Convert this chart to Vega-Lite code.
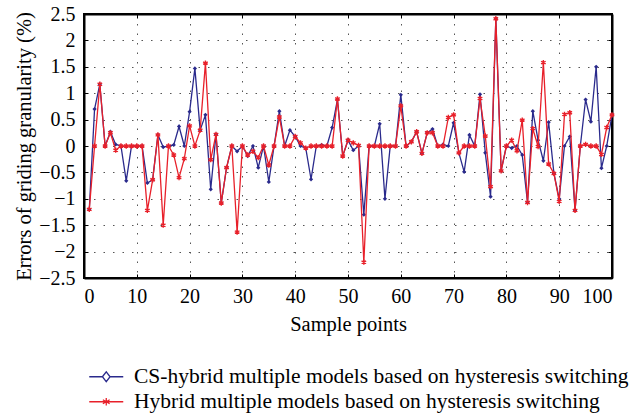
{
  "$schema": "https://vega.github.io/schema/vega-lite/v6.json",
  "width": 528,
  "height": 264,
  "autosize": "none",
  "padding": {"left": 84, "top": 14, "right": 30, "bottom": 139},
  "background": "white",
  "config": {
    "font": "Liberation Serif",
    "view": {"stroke": "black", "strokeWidth": 2},
    "axis": {
      "labelFont": "Liberation Serif",
      "titleFont": "Liberation Serif",
      "labelFontSize": 20,
      "titleFontSize": 20.5,
      "titleFontWeight": "normal",
      "labelColor": "black",
      "titleColor": "black",
      "domainColor": "black",
      "domainWidth": 2,
      "tickColor": "black",
      "tickWidth": 1,
      "tickSize": -4,
      "gridColor": "#555555",
      "gridDash": [1.5, 8],
      "gridWidth": 1
    },
    "legend": {"labelFont": "Liberation Serif"}
  },
  "data": {
    "values": [
      {"s": 1, "a": -1.2, "b": -1.2},
      {"s": 2, "a": 0.7, "b": 0},
      {"s": 3, "a": 1.17, "b": 1.17},
      {"s": 4, "a": 0, "b": 0},
      {"s": 5, "a": 0.27, "b": 0.25},
      {"s": 6, "a": 0.03, "b": -0.08},
      {"s": 7, "a": 0, "b": 0},
      {"s": 8, "a": -0.66, "b": 0},
      {"s": 9, "a": 0, "b": 0},
      {"s": 10, "a": 0, "b": 0},
      {"s": 11, "a": 0, "b": 0},
      {"s": 12, "a": -0.7, "b": -1.22},
      {"s": 13, "a": -0.64, "b": -0.64},
      {"s": 14, "a": 0.21, "b": 0.21},
      {"s": 15, "a": -0.02, "b": -1.5},
      {"s": 16, "a": 0, "b": 0},
      {"s": 17, "a": 0.02, "b": -0.17},
      {"s": 18, "a": 0.37, "b": -0.6},
      {"s": 19, "a": 0, "b": -0.24},
      {"s": 20, "a": 0.65, "b": 0.38},
      {"s": 21, "a": 1.47, "b": 0},
      {"s": 22, "a": 0.3, "b": 0.3},
      {"s": 23, "a": 0.59, "b": 1.57},
      {"s": 24, "a": -0.82, "b": -0.26},
      {"s": 25, "a": 0.22, "b": 0.22},
      {"s": 26, "a": -1.08, "b": -1.08},
      {"s": 27, "a": -0.41, "b": -0.41},
      {"s": 28, "a": 0, "b": 0},
      {"s": 29, "a": -0.1, "b": -1.63},
      {"s": 30, "a": 0, "b": 0},
      {"s": 31, "a": -0.19, "b": -0.17},
      {"s": 32, "a": 0, "b": -0.1},
      {"s": 33, "a": -0.41, "b": -0.22},
      {"s": 34, "a": 0, "b": 0},
      {"s": 35, "a": -0.68, "b": -0.36},
      {"s": 36, "a": 0, "b": 0},
      {"s": 37, "a": 0.66, "b": 0.55},
      {"s": 38, "a": 0, "b": 0},
      {"s": 39, "a": 0.3, "b": 0},
      {"s": 40, "a": 0.18, "b": 0.18},
      {"s": 41, "a": 0, "b": 0.06},
      {"s": 42, "a": -0.04, "b": -0.04},
      {"s": 43, "a": -0.63, "b": 0},
      {"s": 44, "a": 0, "b": 0},
      {"s": 45, "a": 0.02, "b": 0},
      {"s": 46, "a": 0, "b": 0},
      {"s": 47, "a": 0.35, "b": 0},
      {"s": 48, "a": 0.88, "b": 0.89},
      {"s": 49, "a": -0.19, "b": -0.19},
      {"s": 50, "a": 0.11, "b": 0.11},
      {"s": 51, "a": -0.08, "b": 0.06},
      {"s": 52, "a": 0, "b": 0.01},
      {"s": 53, "a": -1.3, "b": -2.2},
      {"s": 54, "a": 0, "b": 0},
      {"s": 55, "a": 0, "b": 0},
      {"s": 56, "a": 0.42, "b": 0},
      {"s": 57, "a": -1.0, "b": 0},
      {"s": 58, "a": 0, "b": 0},
      {"s": 59, "a": 0, "b": 0},
      {"s": 60, "a": 0.97, "b": 0.76},
      {"s": 61, "a": 0, "b": 0},
      {"s": 62, "a": 0.08, "b": 0.08},
      {"s": 63, "a": 0.27, "b": 0.27},
      {"s": 64, "a": -0.14, "b": -0.14},
      {"s": 65, "a": 0.25, "b": 0.25},
      {"s": 66, "a": 0.32, "b": 0.25},
      {"s": 67, "a": 0, "b": 0},
      {"s": 68, "a": 0.03, "b": 0},
      {"s": 69, "a": 0, "b": 0.54},
      {"s": 70, "a": 0.44, "b": 0.59},
      {"s": 71, "a": -0.13, "b": -0.13},
      {"s": 72, "a": -0.49, "b": 0},
      {"s": 73, "a": 0.21, "b": 0},
      {"s": 74, "a": 0, "b": 0},
      {"s": 75, "a": 0.98, "b": 0.9},
      {"s": 76, "a": -0.13, "b": 0.19},
      {"s": 77, "a": -0.96, "b": -0.77},
      {"s": 78, "a": 2.41, "b": 2.41},
      {"s": 79, "a": -0.47, "b": -0.47},
      {"s": 80, "a": 0, "b": 0},
      {"s": 81, "a": -0.04, "b": 0.11},
      {"s": 82, "a": 0, "b": -0.09},
      {"s": 83, "a": -0.17, "b": 0.49},
      {"s": 84, "a": -1.07, "b": -1.07},
      {"s": 85, "a": 0.66, "b": 0.33},
      {"s": 86, "a": 0.11, "b": -0.01},
      {"s": 87, "a": -0.28, "b": 1.58},
      {"s": 88, "a": 0.45, "b": -0.34},
      {"s": 89, "a": -0.52, "b": -0.52},
      {"s": 90, "a": -1.0, "b": -1.05},
      {"s": 91, "a": 0, "b": 0.6},
      {"s": 92, "a": 0.18, "b": 0.63},
      {"s": 93, "a": -1.22, "b": -1.22},
      {"s": 94, "a": 0, "b": 0},
      {"s": 95, "a": 0.88, "b": 0.03},
      {"s": 96, "a": 0.46, "b": 0},
      {"s": 97, "a": 1.5, "b": 0},
      {"s": 98, "a": -0.42, "b": -0.16},
      {"s": 99, "a": 0, "b": 0.35},
      {"s": 100, "a": 0.59, "b": 0.59}
    ]
  },
  "transform": [{"fold": ["a", "b"], "as": ["key", "val"]}],
  "layer": [
    {
      "transform": [{"filter": "datum.key == 'a'"}],
      "mark": {"type": "line", "strokeWidth": 1.3},
      "encoding": {
        "x": {
          "field": "s", "type": "quantitative",
          "scale": {"domain": [0, 100], "nice": false, "zero": false},
          "axis": {
            "orient": "bottom",
            "values": [0, 10, 20, 30, 40, 50, 60, 70, 80, 90, 100],
            "title": "Sample points",
            "labelPadding": 12,
            "titlePadding": 8,
            "grid": true
          }
        },
        "y": {
          "field": "val", "type": "quantitative",
          "scale": {"domain": [-2.5, 2.5], "nice": false, "zero": false},
          "axis": {
            "orient": "left",
            "values": [-2.5, -2, -1.5, -1, -0.5, 0, 0.5, 1, 1.5, 2, 2.5],
            "format": "~f",
            "title": "Errors of griding granularity (%)",
            "labelPadding": 13,
            "titlePadding": 4,
            "grid": true
          }
        },
        "color": {
          "field": "key", "type": "nominal",
          "scale": {"domain": ["a", "b"], "range": ["#2a2a8c", "#e8202a"]},
          "legend": {
            "orient": "none",
            "legendX": 11.5,
            "legendY": 352,
            "title": null,
            "labelExpr": "datum.value == 'a' ? 'CS-hybrid multiple models based on hysteresis switching' : 'Hybrid multiple models based on hysteresis switching'",
            "labelFontSize": 21.5,
            "labelColor": "black",
            "labelLimit": 0,
            "labelOffset": 17,
            "symbolSize": 289,
            "symbolStrokeWidth": 1.3,
            "rowPadding": 2,
            "encode": {
              "symbols": {
                "update": {
                  "shape": {"signal": "datum.value == 'a' ? 'M-2,0H-0.45M0.45,0H2M-0.45,0L0,-0.57L0.45,0L0,0.57Z' : 'M-2,0H2M0,-0.45V0.45M-0.4,-0.24L0.4,0.24M-0.4,0.24L0.4,-0.24'"},
                  "fill": {"value": "white"}
                }
              }
            }
          }
        }
      }
    },
    {
      "transform": [{"filter": "datum.key == 'a'"}],
      "mark": {"type": "point", "shape": "diamond", "filled": true, "size": 18, "color": "#2a2a8c", "opacity": 1},
      "encoding": {
        "x": {
          "field": "s", "type": "quantitative",
          "axis": {
            "orient": "top",
            "values": [0, 10, 20, 30, 40, 50, 60, 70, 80, 90, 100],
            "labels": false, "title": null, "grid": false
          }
        },
        "y": {
          "field": "val", "type": "quantitative",
          "axis": {
            "orient": "right",
            "values": [-2.5, -2, -1.5, -1, -0.5, 0, 0.5, 1, 1.5, 2, 2.5],
            "labels": false, "title": null, "grid": false
          }
        }
      }
    },
    {
      "transform": [{"filter": "datum.key == 'b'"}],
      "mark": {"type": "line", "strokeWidth": 1.3},
      "encoding": {
        "x": {"field": "s", "type": "quantitative", "axis": null},
        "y": {"field": "val", "type": "quantitative", "axis": null},
        "color": {"field": "key", "type": "nominal"}
      }
    },
    {
      "transform": [{"filter": "datum.key == 'b'"}],
      "mark": {"type": "point", "shape": "M0,-1V1M-0.87,-0.5L0.87,0.5M-0.87,0.5L0.87,-0.5", "filled": false, "size": 28, "strokeWidth": 1.4, "color": "#e8202a", "opacity": 1},
      "encoding": {
        "x": {"field": "s", "type": "quantitative", "axis": null},
        "y": {"field": "val", "type": "quantitative", "axis": null}
      }
    }
  ],
  "resolve": {"axis": {"x": "independent", "y": "independent"}}
}
